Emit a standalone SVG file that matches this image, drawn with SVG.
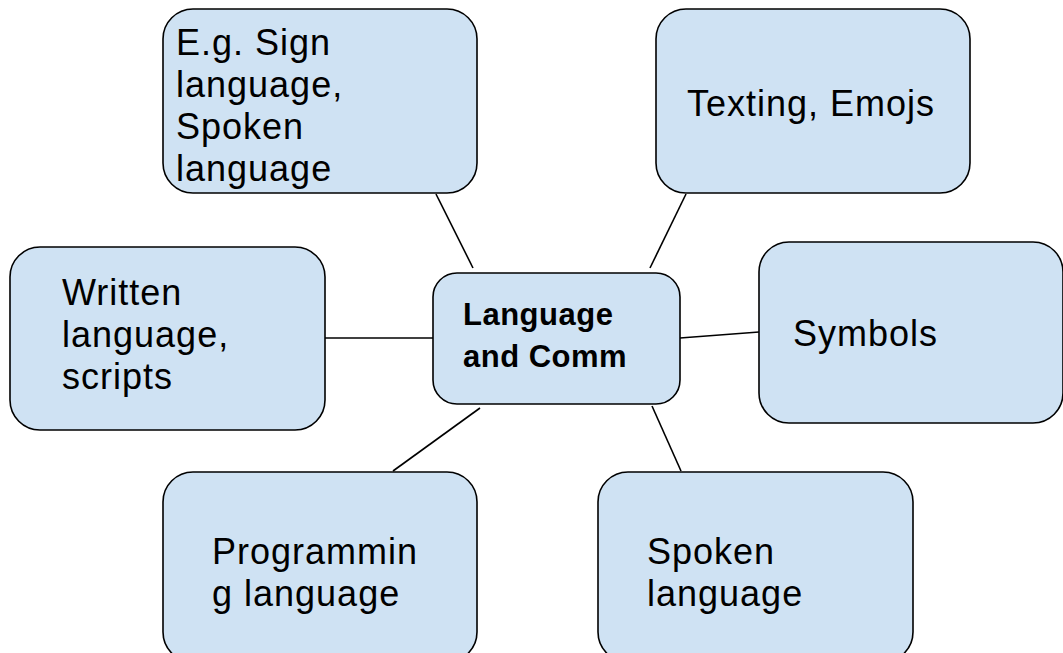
<svg xmlns="http://www.w3.org/2000/svg" width="1063" height="653" viewBox="0 0 1063 653">
<style>
.box{fill:#cfe2f3;stroke:#000;stroke-width:1.6}
.t{font-family:"Liberation Sans",Arial,sans-serif;font-size:36px;letter-spacing:1px;fill:#000}
.b{font-family:"Liberation Sans",Arial,sans-serif;font-size:31px;font-weight:bold;letter-spacing:0.5px;fill:#000}
.c{stroke:#000;stroke-width:1.6;fill:none}
</style>
<rect width="1063" height="653" fill="#fff"/>
<g id="connectors">
<line class="c" x1="436" y1="194" x2="473" y2="268"/>
<line class="c" x1="686" y1="194" x2="650" y2="268"/>
<line class="c" x1="325" y1="338" x2="433" y2="338"/>
<line class="c" x1="680" y1="338" x2="759" y2="332"/>
<line class="c" x1="480" y1="408" x2="393" y2="471"/>
<line class="c" x1="652" y1="406" x2="681" y2="471"/>
</g>
<g id="n-center">
<rect class="box" x="433" y="273" width="247" height="131" rx="24"/>
<text class="b" x="463" y="325">Language</text>
<text class="b" x="463" y="367">and Comm</text>
</g>
<g id="n-sign">
<rect class="box" x="163" y="9" width="314" height="184" rx="30"/>
<text class="t" x="176" y="55">E.g. Sign</text>
<text class="t" x="176" y="97">language,</text>
<text class="t" x="176" y="139">Spoken</text>
<text class="t" x="176" y="181">language</text>
</g>
<g id="n-texting">
<rect class="box" x="656" y="9" width="314" height="184" rx="30"/>
<text class="t" x="687" y="116">Texting, Emojs</text>
</g>
<g id="n-written">
<rect class="box" x="10" y="247" width="315" height="183" rx="30"/>
<text class="t" x="62" y="305">Written</text>
<text class="t" x="62" y="347">language,</text>
<text class="t" x="62" y="389">scripts</text>
</g>
<g id="n-symbols">
<rect class="box" x="759" y="242" width="304" height="181" rx="30"/>
<text class="t" x="793" y="346">Symbols</text>
</g>
<g id="n-programming">
<rect class="box" x="163" y="472" width="314" height="190" rx="30"/>
<text class="t" x="212" y="564">Programmin</text>
<text class="t" x="212" y="606">g language</text>
</g>
<g id="n-spoken">
<rect class="box" x="598" y="472" width="315" height="190" rx="30"/>
<text class="t" x="647" y="564">Spoken</text>
<text class="t" x="647" y="606">language</text>
</g>
</svg>
